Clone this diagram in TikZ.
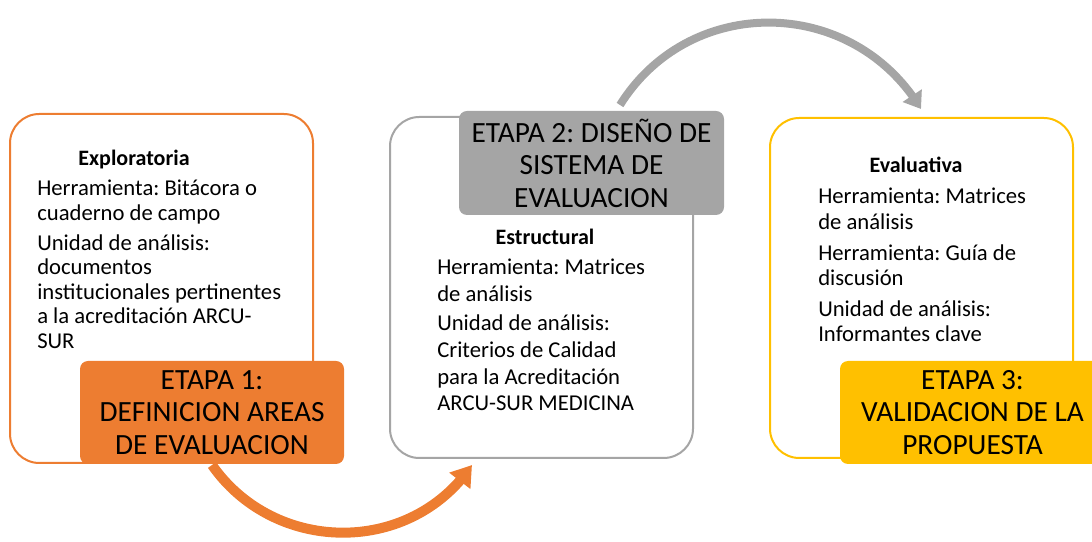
\documentclass[tikz,border=0pt]{standalone}
\usepackage{fontspec}
\setmainfont{Carlito}
\usepackage{tikz}
\usetikzlibrary{arrows.meta, bending}
\definecolor{etapaorange}{HTML}{ED7D31}
\definecolor{etapagray}{HTML}{A5A5A5}
\definecolor{etapagold}{HTML}{FFC000}
\tikzstyle{marco} = [draw, line width=1.5pt, rounded corners=22pt, fill=white, inner sep=0pt, outer sep=0pt, minimum width=227.25pt]
\tikzstyle{etapa} = [rounded corners=6pt, align=center, text=black, inner sep=0pt, outer sep=0pt, minimum width=198.75pt, minimum height=77.25pt, font=\fontsize{22}{24.4}\selectfont]
\tikzstyle{titulo} = [font=\bfseries\fontsize{16.5}{18}\selectfont, inner sep=0pt]
\tikzstyle{cuerpo} = [anchor=north west, align=left, inner sep=0pt]
\tikzstyle{giro} = [line width=7.5pt, -{Triangle[length=15pt,width=19pt]}]

\begin{document}
\frenchspacing
\begin{tikzpicture}[x=0.75pt, y=0.75pt]
\clip (0,0) rectangle (1092,542);
% curved arrows between the stages
\coordinate (ini1) at (212,77);
\coordinate (fin1) at (472,77);
\coordinate (ini2) at (620,437);
\coordinate (fin2) at (921,433);
\draw[giro, draw=etapaorange] (ini1) to[out=-55,in=236,looseness=1.08] (fin1);
\draw[giro, draw=etapagray, line width=6pt, -{Triangle[length=12pt,width=16.5pt]}] (ini2) to[out=58,in=121,looseness=1.12] (fin2);
% stage 1
\node (marco1) [marco, draw=etapaorange, minimum height=261.75pt] at (161.5,253.5) {};
\node (explo) [titulo] at (134,382) {Exploratoria};
\node (texto1) [cuerpo, font=\fontsize{17}{18.4}\selectfont] at (37,362) {Herramienta: Bitácora o\\cuaderno de campo\\[4pt]Unidad de análisis:\\documentos\\institucionales pertinentes\\a la acreditación ARCU-\\SUR};
\node (etapa1) [etapa, fill=etapaorange, minimum width=198pt] at (212,129.5) {ETAPA 1:\\DEFINICION AREAS\\DE EVALUACION};
% stage 2
\node (marco2) [marco, draw=etapagray, minimum height=255.75pt] at (541.5,254.5) {};
\node (estruc) [titulo] at (545,305) {Estructural};
\node (texto2) [cuerpo, font=\fontsize{17}{20}\selectfont] at (437,283) {Herramienta: Matrices\\de análisis\\[2pt]Unidad de análisis:\\Criterios de Calidad\\para la Acreditación\\ARCU-SUR MEDICINA};
\node (etapa2) [etapa, fill=etapagray, minimum height=78pt] at (591.5,379) {ETAPA 2: DISEÑO DE\\SISTEMA DE\\EVALUACION};
% stage 3
\node (marco3) [marco, draw=etapagold, minimum height=255pt] at (921.5,254) {};
\node (evalu) [titulo] at (916,377) {Evaluativa};
\node (texto3) [cuerpo, font=\fontsize{17}{19.1}\selectfont] at (818,354) {Herramienta: Matrices\\de análisis\\[4pt]Herramienta: Guía de\\discusión\\[4pt]Unidad de análisis:\\Informantes clave};
\node (etapa3) [etapa, fill=etapagold] at (972.5,129.5) {ETAPA 3:\\VALIDACION DE LA\\PROPUESTA};
\end{tikzpicture}
\end{document}
